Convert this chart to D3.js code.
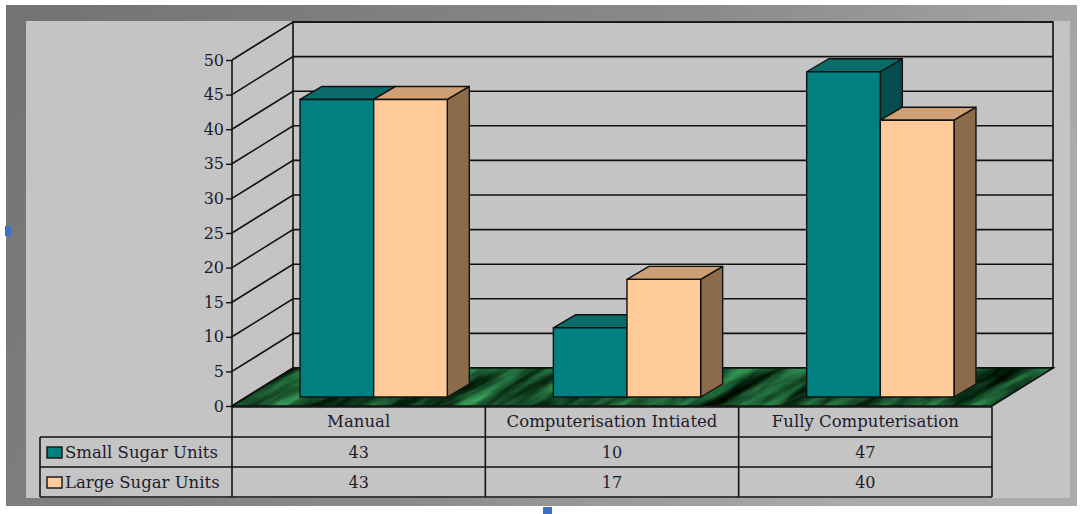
<!DOCTYPE html>
<html>
<head>
<meta charset="utf-8">
<script src="https://cdnjs.cloudflare.com/ajax/libs/d3/7.8.5/d3.min.js"></script>
<style>
  html, body { margin: 0; padding: 0; background: #ffffff; }
  svg { display: block; }
</style>
</head>
<body>
<svg id="chart" width="1080" height="514"></svg>
<script>
// ---- data ----
const categories = ["Manual", "Computerisation Intiated", "Fully Computerisation"];
const seriesNames = ["Small Sugar Units", "Large Sugar Units"];
const smallUnits = [43, 10, 47];
const largeUnits = [43, 17, 40];
const yTicks = [0, 5, 10, 15, 20, 25, 30, 35, 40, 45, 50];

// ---- layout ----
const W = 1080, H = 514;
const plotLeft = 232, plotRight = 992;
const wallDX = 61, wallDY = -38;      // depth of the back wall
const barDX = 15, barDY = -9;         // bars sit a little behind the front edge
const boxDX = 22, boxDY = -13;        // depth of each 3D bar
const rowTop = 407, rowH = 30, legendLeft = 40;

const colors = {
  front: ["#008080", "#ffcc99"],
  top:   ["#0b6a6a", "#cfa076"],
  side:  ["#034d4d", "#8c6b4a"]
};

const svg = d3.select("#chart");
const defs = svg.append("defs");

// frame gradient
const fg = defs.append("linearGradient").attr("id", "frameGrad")
  .attr("x1", "0").attr("y1", "0").attr("x2", "1").attr("y2", "0.3");
fg.append("stop").attr("offset", "0").attr("stop-color", "#727272");
fg.append("stop").attr("offset", "0.6").attr("stop-color", "#8a8a8a");
fg.append("stop").attr("offset", "1").attr("stop-color", "#ababab");

// marbled green floor texture (streaky noise)
const marble = defs.append("filter").attr("id", "marble")
  .attr("x", "0").attr("y", "0").attr("width", "1").attr("height", "1")
  .attr("color-interpolation-filters", "sRGB");
marble.append("feTurbulence").attr("type", "fractalNoise")
  .attr("baseFrequency", "0.012 0.07").attr("numOctaves", 4).attr("seed", 11).attr("result", "noise");
marble.append("feColorMatrix").attr("in", "noise").attr("type", "matrix")
  .attr("values", [
    0.40, 0, 0, 0, -0.10,
    0.95, 0, 0, 0, -0.14,
    0.60, 0, 0, 0, -0.12,
    0, 0, 0, 0, 1
  ].join(" ")).attr("result", "green");
marble.append("feComposite").attr("in", "green").attr("in2", "SourceGraphic").attr("operator", "in");

// ---- background frame ----
svg.append("rect").attr("x", 0).attr("y", 0).attr("width", W).attr("height", H).attr("fill", "#ffffff");
svg.append("rect").attr("x", 6).attr("y", 5).attr("width", 1071).attr("height", 501).attr("fill", "url(#frameGrad)");
svg.append("rect").attr("x", 26).attr("y", 21).attr("width", 1044).attr("height", 477).attr("fill", "#c4c4c4");

// ---- scales ----
const y = d3.scaleLinear().domain([0, 50]).range([406, 60]);
const x = d3.scaleBand().domain(categories).range([plotLeft, plotRight]);
const xs = d3.scaleBand().domain(seriesNames).range([0, x.bandwidth()]).paddingInner(0).paddingOuter(0.72);

const line = d3.line();
const ink = "#111";
const serif = "'DejaVu Serif', 'Liberation Serif', serif";
const textInk = "#1e1a2c";

// ---- walls ----
const y0 = y(0), yMax = y(50);
// back wall
svg.append("path")
  .attr("d", line([[plotLeft + wallDX, yMax + wallDY], [plotRight + wallDX, yMax + wallDY],
                   [plotRight + wallDX, y0 + wallDY], [plotLeft + wallDX, y0 + wallDY]]) + "Z")
  .attr("fill", "#c4c4c4").attr("stroke", ink).attr("stroke-width", 1.6);

// gridlines on side wall and back wall
const grid = svg.append("g").attr("stroke", ink).attr("stroke-width", 1.6).attr("fill", "none");
yTicks.forEach(t => {
  grid.append("path").attr("d", line([[plotLeft, y(t)], [plotLeft + wallDX, y(t) + wallDY],
                                      [plotRight + wallDX, y(t) + wallDY]]));
});

// ---- floor ----
const floorPts = [[plotLeft, y0], [plotRight, y0], [plotRight + wallDX, y0 + wallDY], [plotLeft + wallDX, y0 + wallDY]];
defs.append("clipPath").attr("id", "floorClip").append("path").attr("d", line(floorPts) + "Z");
const floorG = svg.append("g").attr("clip-path", "url(#floorClip)");
floorG.append("path").attr("d", line(floorPts) + "Z").attr("fill", "#1d5a30");
floorG.append("g").attr("transform", `rotate(-28 ${(plotLeft + plotRight) / 2} ${y0})`)
  .append("rect").attr("x", plotLeft - 150).attr("y", y0 - 450).attr("width", plotRight - plotLeft + 300).attr("height", 700)
  .attr("fill", "#1d5a30").attr("filter", "url(#marble)");
svg.append("path").attr("d", line(floorPts) + "Z").attr("fill", "none").attr("stroke", ink).attr("stroke-width", 1.6);

// ---- y axis ----
const yAxis = d3.axisLeft(y).tickValues(yTicks).tickSize(6).tickPadding(2).tickFormat(d3.format("d"));
const ya = svg.append("g").attr("transform", `translate(${plotLeft},0)`).call(yAxis);
ya.select(".domain").remove();
ya.selectAll(".tick line").attr("stroke", ink).attr("stroke-width", 1.4);
ya.selectAll(".tick text").attr("fill", textInk)
  .style("font-family", serif).style("font-size", "16px");
svg.append("line").attr("x1", plotLeft).attr("x2", plotLeft).attr("y1", yMax).attr("y2", rowTop + 3 * rowH)
  .attr("stroke", ink).attr("stroke-width", 1.6);

// ---- bars ----
const barData = [];
categories.forEach((c, i) => {
  [smallUnits, largeUnits].forEach((vals, s) => {
    barData.push({ cat: c, s, name: seriesNames[s], v: vals[i] });
  });
});

const bars = svg.append("g").attr("stroke", ink).attr("stroke-width", 1.4).attr("stroke-linejoin", "round");
barData.forEach(d => {
  const xl = x(d.cat) + xs(d.name) + barDX;
  const xr = xl + xs.bandwidth();
  const yb = y(0) + barDY;
  const yt = y(d.v) + barDY;
  const g = bars.append("g");
  // side face
  g.append("path").attr("d", line([[xr, yt], [xr + boxDX, yt + boxDY], [xr + boxDX, yb + boxDY], [xr, yb]]) + "Z")
    .attr("fill", colors.side[d.s]);
  // top face
  g.append("path").attr("d", line([[xl, yt], [xl + boxDX, yt + boxDY], [xr + boxDX, yt + boxDY], [xr, yt]]) + "Z")
    .attr("fill", colors.top[d.s]);
  // front face
  g.append("rect").attr("x", xl).attr("y", yt).attr("width", xr - xl).attr("height", yb - yt)
    .attr("fill", colors.front[d.s]);
});

// ---- data table ----
const table = svg.append("g");
const tl = table.append("g").attr("stroke", ink).attr("stroke-width", 1.6);
// horizontal rules
tl.append("line").attr("x1", plotLeft).attr("x2", plotRight).attr("y1", rowTop).attr("y2", rowTop);
[1, 2, 3].forEach(r => {
  tl.append("line").attr("x1", legendLeft).attr("x2", plotRight)
    .attr("y1", rowTop + r * rowH).attr("y2", rowTop + r * rowH);
});
// vertical rules
categories.forEach(c => {
  const xv = x(c) + x.bandwidth();
  tl.append("line").attr("x1", xv).attr("x2", xv).attr("y1", rowTop).attr("y2", rowTop + 3 * rowH);
});
tl.append("line").attr("x1", legendLeft).attr("x2", legendLeft).attr("y1", rowTop + rowH).attr("y2", rowTop + 3 * rowH);

// category labels
table.selectAll("text.cat").data(categories).join("text")
  .attr("class", "cat")
  .attr("x", d => x(d) + x.bandwidth() / 2).attr("y", rowTop + rowH / 2 + 5)
  .attr("text-anchor", "middle").attr("fill", textInk)
  .style("font-family", serif).style("font-size", "16.5px")
  .text(d => d);

// value cells and legend keys
[smallUnits, largeUnits].forEach((vals, s) => {
  const ry = rowTop + (s + 1) * rowH;
  table.selectAll(null).data(vals).join("text")
    .attr("x", (d, i) => x(categories[i]) + x.bandwidth() / 2).attr("y", ry + rowH / 2 + 6)
    .attr("text-anchor", "middle").attr("fill", textInk)
    .style("font-family", serif).style("font-size", "16px")
    .text(d => d);
  table.append("rect").attr("x", legendLeft + 7).attr("y", ry + 10).attr("width", 15).attr("height", 11)
    .attr("fill", colors.front[s]).attr("stroke", ink).attr("stroke-width", 1.4);
  table.append("text").attr("x", legendLeft + 25).attr("y", ry + rowH / 2 + 6)
    .attr("fill", textInk)
    .style("font-family", serif).style("font-size", "16.5px")
    .text(seriesNames[s]);
});

// small selection handles of the embedded object
svg.append("rect").attr("x", 5).attr("y", 226).attr("width", 6).attr("height", 10).attr("fill", "#3d6fc4");
svg.append("rect").attr("x", 543).attr("y", 507).attr("width", 9).attr("height", 7).attr("fill", "#3d6fc4");
</script>
</body>
</html>
